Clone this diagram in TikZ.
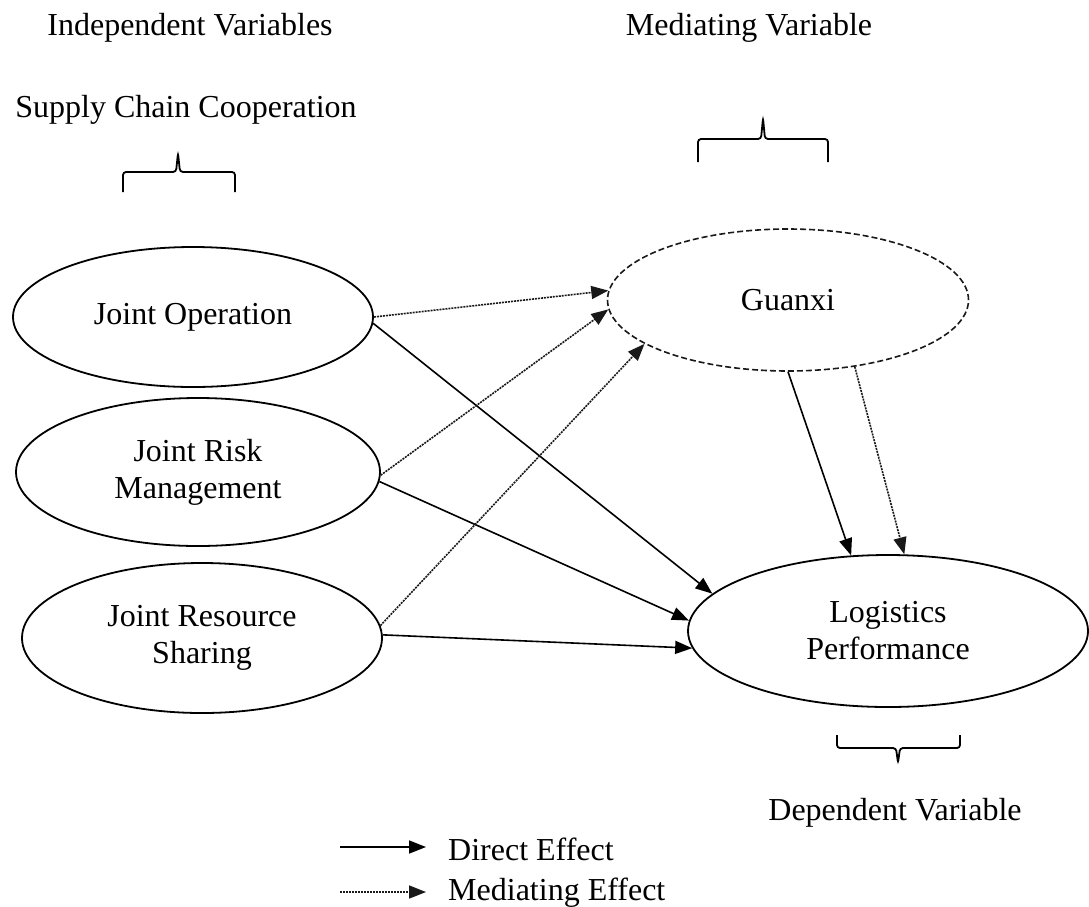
\documentclass[tikz,border=0pt]{standalone}
\usepackage{fontspec}
\setmainfont{Liberation Serif}
\usetikzlibrary{shapes.geometric,arrows.meta}
\begin{document}
\begin{tikzpicture}[x=1pt,y=-1pt,
  lbl/.style={font=\fontsize{32}{37}\selectfont, inner sep=0pt, anchor=base},
  var/.style={ellipse, draw, line width=1.8pt, inner sep=0pt, align=center, font=\fontsize{32}{37}\selectfont},
  med/.style={var, line width=1.6pt, dash pattern=on 6pt off 3pt, draw=black!90},
  direct/.style={line width=1.6pt, -{Triangle[length=17pt,width=13pt]}},
  mediate/.style={line width=1.6pt, draw=black!90, dash pattern=on 2pt off 1pt, -{Triangle[length=17pt,width=13pt]}},
  brace/.style={line width=1.8pt, rounded corners=3pt}]
\useasboundingbox (0,0) rectangle (1089,906);

% headings
\node[lbl] (iv) at (190,35) {Independent Variables};
\node[lbl] (mv) at (749,35) {Mediating Variable};
\node[lbl] (scc) at (186,117) {Supply Chain Cooperation};
\node[lbl] (dv) at (895,820) {Dependent Variable};

% braces
\draw[brace] (123,192) -- (123,172) -- (176,172) -- (178,153) -- (180,172) -- (235,172) -- (235,192);
\draw[brace] (698,162) -- (698,139) -- (761,139) -- (763,118) -- (765,139) -- (828,139) -- (828,162);
\draw[brace] (837,735) -- (837,748) -- (896,748) -- (898,763) -- (900,748) -- (960,748) -- (960,735);

% variables
\node[var, minimum width=360pt, minimum height=140pt] (jo) at (193,317) {Joint Operation};
\node[var, minimum width=364pt, minimum height=148pt] (jrm) at (198,472) {Joint Risk\\Management};
\node[var, minimum width=360pt, minimum height=150pt] (jrs) at (202,638) {Joint Resource\\Sharing};
\node[med, minimum width=361pt, minimum height=142pt] (g) at (788,300) {Guanxi};
\node[var, minimum width=400pt, minimum height=152pt] (lp) at (888,631) {Logistics\\Performance};

% connectors
\draw[mediate] (jo.0) -- (g.177);
\draw[direct] (jo.-2) -- (lp.168);
\draw[mediate] (jrm.-1) -- (g.-177);
\draw[direct] (jrm.-3) -- (lp.177);
\draw[mediate] (jrs.4) -- (g.197);
\draw[direct] (jrs.1) -- (lp.-175);
\draw[direct] (g.south) -- (lp.116);
\draw[mediate] (g.-45) -- (lp.78);

% legend
\coordinate (ds) at (340,847);
\coordinate (de) at (426,847);
\coordinate (ms) at (340,892);
\coordinate (me) at (426,892);
\draw[direct] (ds) -- (de);
\draw[mediate] (ms) -- (me);
\node[lbl, anchor=base west] (dtext) at (448,860) {Direct Effect};
\node[lbl, anchor=base west] (mtext) at (448,900) {Mediating Effect};
\end{tikzpicture}
\end{document}
